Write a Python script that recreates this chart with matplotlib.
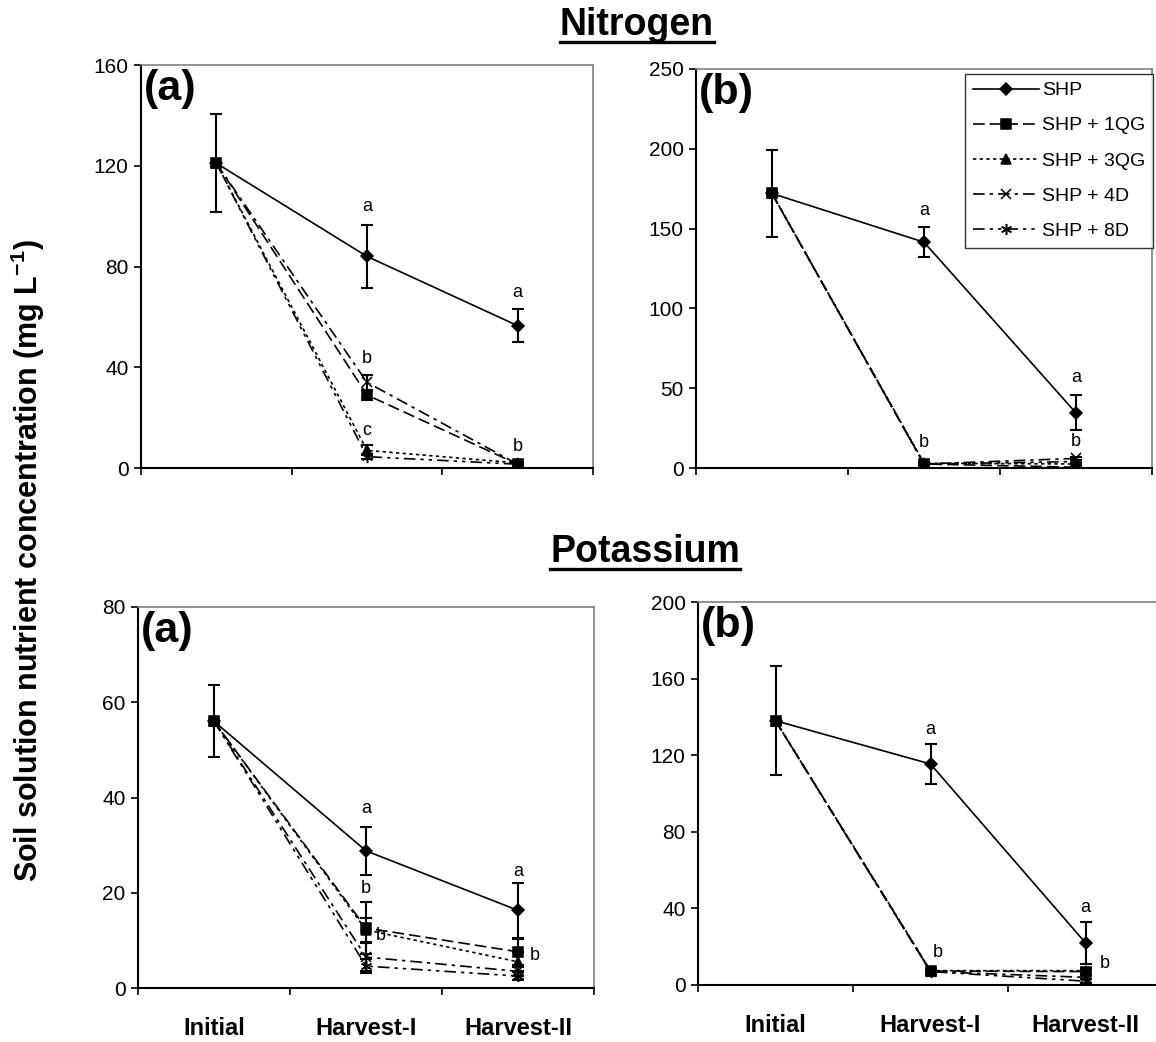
import numpy as np
import matplotlib
matplotlib.use("Agg")
import matplotlib.pyplot as plt
from matplotlib.lines import Line2D

plt.rcParams['font.family'] = ['Liberation Sans', 'DejaVu Sans']
plt.rcParams['mathtext.fontset'] = 'custom'
plt.rcParams['mathtext.rm'] = 'Liberation Sans'
plt.rcParams['mathtext.bf'] = 'Liberation Sans:bold'

categories = ['Initial', 'Harvest-I', 'Harvest-II']
treatments = ['SHP', 'SHP + 1QG', 'SHP + 3QG', 'SHP + 4D', 'SHP + 8D']

# nitrogen, mg/L  (rows follow treatments, columns follow categories)
n_a_means = [[121, 84, 56.5], [121, 29, 1.5], [121, 7, 2], [121, 34, 1.5], [121, 4.5, 1.5]]
n_a_errs = [[19.5, 12.5, 6.5], [0, 2, 0.5], [0, 2, 0.5], [0, 3, 0.5], [0, 1, 0.5]]
n_b_means = [[172, 141.5, 34.5], [172, 2.5, 0.5], [172, 3, 2.5], [172, 2.5, 6], [172, 2.5, 4]]
n_b_errs = [[27.5, 9.5, 11], [0, 0.5, 0.3], [0, 0.5, 0.5], [0, 0.5, 1], [0, 0.5, 0.8]]

# potassium, mg/L
k_a_means = [[56, 28.8, 16.3], [56, 12.6, 7.6], [56, 12.2, 5.5], [56, 6.5, 3.5], [56, 4.6, 2.5]]
k_a_errs = [[7.6, 5, 5.8], [0, 5.4, 2.7], [0, 2.6, 2], [0, 3, 1], [0, 1.5, 0.8]]
k_b_means = [[138, 115.4, 22], [138, 7.3, 7], [138, 7.5, 7.5], [138, 7, 4], [138, 7, 2]]
k_b_errs = [[28.5, 10.7, 11], [0, 1, 1.5], [0, 1, 1.5], [0, 1, 1], [0, 1, 1]]

# significance letters: (category, treatment index, letter, dx pt, dy pt)
n_a_letters = [(1, 0, 'a', 0, 13), (2, 0, 'a', 0, 12), (1, 3, 'b', 0, 12),
               (1, 2, 'c', 0, 11), (2, 2, 'b', 0, 11)]
n_b_letters = [(1, 0, 'a', 0, 12), (2, 0, 'a', 0, 13), (1, 2, 'b', 0, 14), (2, 3, 'b', 0, 11)]
k_a_letters = [(1, 0, 'a', 0, 13), (2, 0, 'a', 0, 8), (1, 1, 'b', 0, 10),
               (1, 3, 'b', 11, 5), (2, 2, 'b', 12, -2)]
k_b_letters = [(1, 0, 'a', 0, 10), (2, 0, 'a', 0, 10), (1, 2, 'b', 5, 12), (2, 2, 'b', 14, 3)]

line_styles = ['-', (0, (7, 3)), (0, (2, 2)), (0, (7, 3, 2, 3)), (0, (7, 3, 2, 3, 2, 3))]
markers = ['D', 's', '^', 'x', (6, 2, 0)]
marker_sizes = [6.5, 6.5, 7, 7, 8]

W, H = 1156, 1042
fig = plt.figure(figsize=(W / 100, H / 100), dpi=100)


def px_axes(l, t, r, b):
    return fig.add_axes([l / W, 1 - b / H, (r - l) / W, (b - t) / H])


def draw_panel(ax, means, errs, letters, ymax, ystep, xmax, tag, xlabels):
    x = np.arange(3) + 0.5
    lines = []
    for i, name in enumerate(treatments):
        ln, = ax.plot(x, means[i], color='black', lw=1.2, ls=line_styles[i],
                      marker=markers[i], ms=marker_sizes[i], mfc='black', mec='black',
                      mew=1.1, label=name, zorder=3 + i * 0.1)
        lines.append(ln)
        keep = [j for j in range(3) if errs[i][j] > 0]
        if keep:
            ax.errorbar(x[keep], np.array(means[i])[keep], yerr=np.array(errs[i])[keep],
                        fmt='none', ecolor='black', elinewidth=1.5, capsize=4.5,
                        capthick=1.5, zorder=2)
    for cat, tr, txt, dx, dy in letters:
        top = means[tr][cat] + errs[tr][cat]
        ax.annotate(txt, (x[cat], top), xytext=(dx, dy), textcoords='offset points',
                    ha='center', va='center', fontsize=13, zorder=5)
    ax.set_xlim(0, xmax)
    ax.set_ylim(0, ymax)
    ax.set_yticks(np.arange(0, ymax + 1, ystep))
    ax.set_xticks([0, 1, 2, 3])
    ax.set_xticklabels([])
    ax.tick_params(axis='both', which='major', direction='out', length=5, width=1.2,
                   labelsize=15, pad=4)
    if xlabels:
        ax.set_xticks(x, minor=True)
        ax.set_xticklabels(categories, minor=True, fontsize=17, fontweight='bold')
        ax.tick_params(axis='x', which='minor', length=0, pad=21)
    for side in ['left', 'bottom']:
        ax.spines[side].set_linewidth(1.5)
    for side in ['top', 'right']:
        ax.spines[side].set_color('#808080')
        ax.spines[side].set_linewidth(1.2)
    ax.annotate(tag, (0, 1), xycoords='axes fraction', xytext=(2, -3),
                textcoords='offset points', ha='left', va='top', fontsize=31,
                fontweight='bold')
    return lines


ax1 = px_axes(141, 65, 593, 468)
ax2 = px_axes(696, 69, 1152, 468)
ax3 = px_axes(138, 607, 594, 988)
ax4 = px_axes(698, 602, 1163, 985)

draw_panel(ax1, n_a_means, n_a_errs, n_a_letters, 160, 40, 3, '(a)', False)
handles = draw_panel(ax2, n_b_means, n_b_errs, n_b_letters, 250, 50, 3, '(b)', False)
draw_panel(ax3, k_a_means, k_a_errs, k_a_letters, 80, 20, 3, '(a)', True)
draw_panel(ax4, k_b_means, k_b_errs, k_b_letters, 200, 40, 465 / 155, '(b)', True)

leg = fig.legend(handles=handles, loc='upper left', bbox_to_anchor=(965 / W, 1 - 74 / H),
                 bbox_transform=fig.transFigure, fontsize=14, frameon=True, fancybox=False,
                 borderpad=0.4, borderaxespad=0, handlelength=3.4, handletextpad=0.15,
                 labelspacing=0.9)
leg.get_frame().set_edgecolor('black')
leg.get_frame().set_linewidth(1.0)

# section headings with underline
fig.canvas.draw()
renderer = fig.canvas.get_renderer()
for label, cx, base in [('Nitrogen', 637, 35), ('Potassium', 645, 562)]:
    t = fig.text(cx / W, 1 - base / H, label, ha='center', va='baseline',
                 fontsize=27, fontweight='bold')
    bb = t.get_window_extent(renderer)
    yline = 1 - (base + 7) / H
    fig.add_artist(Line2D([bb.x0 / W, bb.x1 / W], [yline, yline], color='black',
                          lw=2.4, transform=fig.transFigure))

fig.text(28 / W, 1 - 561 / H, 'Soil solution nutrient concentration (mg L$^{\\mathbf{-1}}$)',
         rotation=90, ha='center', va='center', fontsize=22, fontweight='bold')

fig.savefig('out.png', dpi=100)
